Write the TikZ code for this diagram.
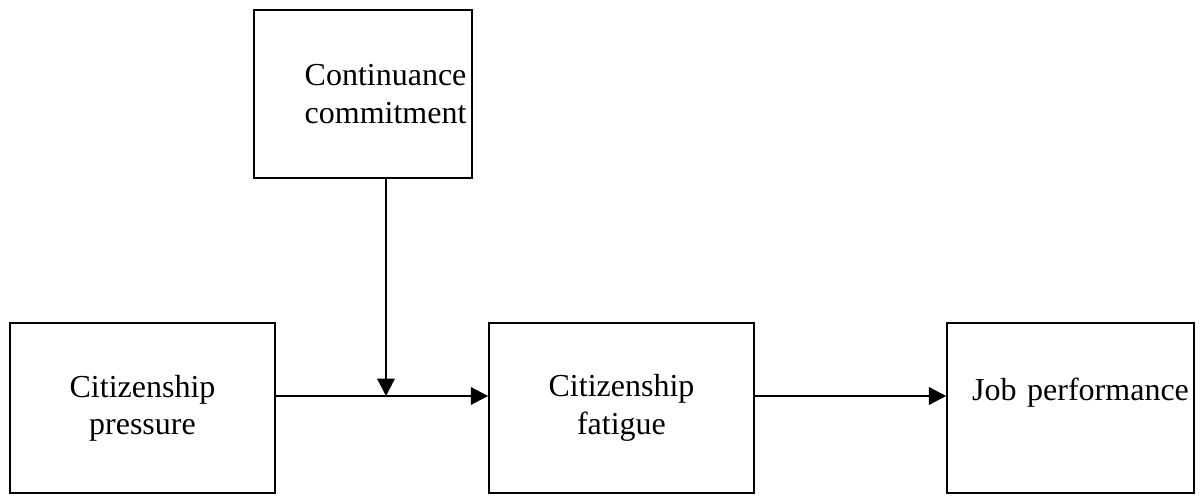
\documentclass[tikz,border=0pt]{standalone}
\usepackage{fontspec}
\setmainfont{Liberation Serif}
\usetikzlibrary{arrows.meta}

\tikzset{
    box/.style={draw, line width=0.6pt, minimum height=63.75pt, inner sep=0pt,
        align=center, font=\fontsize{12pt}{14pt}\selectfont},
    link/.style={line width=0.9pt, -{Triangle[length=6.5pt,width=6.5pt]}}
}

\begin{document}
\begin{tikzpicture}[x=0.375pt, y=-0.375pt]
        \useasboundingbox (0,0) rectangle (1204,504);

        % Boxes
        \node[box, minimum width=81.75pt, minimum height=63pt, text width=81.75pt, align=left] (commit) at (363,94) {\hspace*{19pt}Continuance\\\hspace*{19pt}commitment};
        \node[box, minimum width=99.4pt] (pressure) at (142.5,408) {Citizenship\\pressure};
        \node[box, minimum width=99.4pt] (fatigue) at (621.5,408) {Citizenship\\fatigue};
        \node[box, minimum width=92.6pt, text width=92.6pt, align=left] (job) at (1070.5,408) {\hspace*{9.4pt}\mbox{Job performance}\\\mbox{}};

        % Moderation point
        \coordinate (mid) at (386,396);

        % Links
        \draw[link] (pressure.east |- mid) -- (fatigue.west |- mid);
        \draw[link] (fatigue.east |- mid) -- (job.west |- mid);
        \draw[link] (commit.south -| mid) -- (mid);
    \end{tikzpicture}
\end{document}
